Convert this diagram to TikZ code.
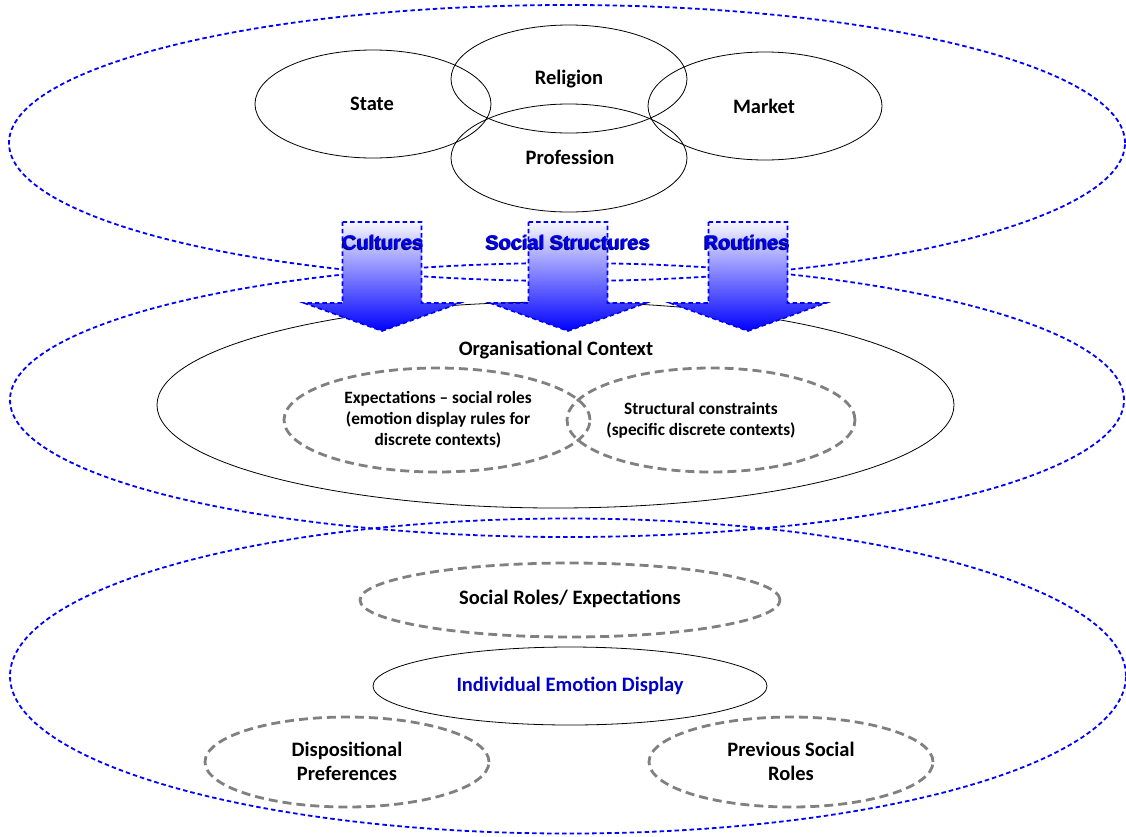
\documentclass[tikz,border=0pt]{standalone}
\usepackage{fontspec}
\setmainfont{Carlito}
\newfontfamily\arrowfont{Liberation Sans}
\usetikzlibrary{shapes.geometric}

\newcommand\flowarrow[1]{%
  \shadedraw[flowshape]
    ({#1-39.5},222) -- ({#1+39.5},222) -- ({#1+39.5},303) -- ({#1+78},303)
    -- (#1,331) -- ({#1-78},303) -- ({#1-39.5},303) -- cycle;}

\begin{document}
\begin{tikzpicture}[x=1pt,y=-1pt,
  ring/.style={ellipse, inner sep=0pt, outer sep=0pt},
  bluering/.style={ring, draw=blue, line width=1.8pt, dash pattern=on 4.5pt off 3pt},
  grayring/.style={ring, draw=black!50, line width=2.8pt, dash pattern=on 9pt off 5pt},
  plainring/.style={ring, draw=black, line width=0.8pt},
  biglbl/.style={font=\bfseries\fontsize{20.5}{24}\selectfont, align=center},
  smalllbl/.style={font=\bfseries\fontsize{17.3}{21}\selectfont, align=center},
  flowshape/.style={top color=blue!3, bottom color=blue, draw=blue,
                    line width=1.6pt, dash pattern=on 4.5pt off 3pt},
  flowlbl/.style={font=\arrowfont\bfseries\fontsize{20}{24}\selectfont, text=blue},
  flowshadow/.style={font=\arrowfont\bfseries\fontsize{20}{24}\selectfont, text=black!65!blue},
]
\useasboundingbox (0,0) rectangle (1126,836);

% three nested levels
\node[bluering, minimum width=1116pt, minimum height=276pt] (society) at (567,143) {};
\node[bluering, minimum width=1114pt, minimum height=274pt] (organisation) at (567,400) {};
\node[bluering, minimum width=1116pt, minimum height=315pt] (individual) at (568,676) {};

% institutional logics
\node[plainring, minimum width=236pt, minimum height=108pt] (state) at (373,104) {};
\node[plainring, minimum width=236pt, minimum height=108pt] (religion) at (569,79) {};
\node[plainring, minimum width=234pt, minimum height=108pt] (market) at (765,106) {};
\node[plainring, minimum width=236pt, minimum height=108pt] (profession) at (569,158) {};
\node[biglbl] (statetxt) at (372,104) {State};
\node[biglbl] (religiontxt) at (569,79) {Religion};
\node[biglbl] (markettxt) at (764,106) {Market};
\node[biglbl] (professiontxt) at (570,157) {Profession};

% organisational context
\node[plainring, minimum width=797pt, minimum height=206pt] (orgctx) at (555.5,405) {};
\node[biglbl] (orgtxt) at (556,350) {Organisational Context};
\node[grayring, minimum width=306pt, minimum height=104pt] (expect) at (437,420) {};
\node[grayring, minimum width=288pt, minimum height=104pt] (struct) at (711,420) {};
\node[smalllbl] (expecttxt) at (438,420) {Expectations -- social roles\\(emotion display rules for\\discrete contexts)};
\node[smalllbl] (structtxt) at (701,420) {Structural constraints\\(specific discrete contexts)};

% individual level
\node[grayring, minimum width=420pt, minimum height=74pt] (roles) at (570,600) {};
\node[biglbl] (rolestxt) at (570,599) {Social Roles/ Expectations};
\node[plainring, minimum width=394pt, minimum height=78pt] (display) at (570,686) {};
\node[biglbl, text=blue!80!black] (displaytxt) at (570,686) {Individual Emotion Display};
\node[grayring, minimum width=284pt, minimum height=90pt] (dispo) at (347,762) {};
\node[biglbl] (dispotxt) at (347,761) {Dispositional\\Preferences};
\node[grayring, minimum width=284pt, minimum height=90pt] (prev) at (791,762) {};
\node[biglbl] (prevtxt) at (791,761) {Previous Social\\Roles};

% downward flows
\flowarrow{382}
\flowarrow{568}
\flowarrow{748}
\node[flowshadow] (culturesshadow) at (382,243.2) {Cultures};
\node[flowlbl] (cultures) at (383.2,242) {Cultures};
\node[flowshadow] (structuresshadow) at (567,243.2) {Social Structures};
\node[flowlbl] (structures) at (568.2,242) {Social Structures};
\node[flowshadow] (routinesshadow) at (746,243.2) {Routines};
\node[flowlbl] (routines) at (747.2,242) {Routines};
\end{tikzpicture}
\end{document}
